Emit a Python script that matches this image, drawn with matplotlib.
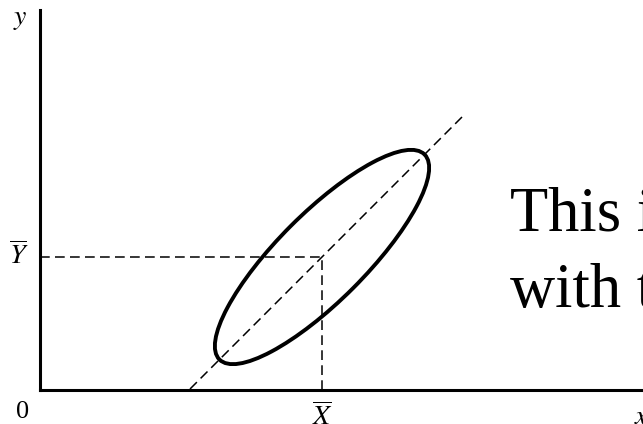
import matplotlib
matplotlib.use("Agg")
import matplotlib.pyplot as plt
from matplotlib.patches import Ellipse

plt.rcParams['font.family'] = ['Liberation Serif', 'DejaVu Serif']
plt.rcParams['mathtext.fontset'] = 'stix'
plt.rcParams['lines.scale_dashes'] = False

# 均值点与椭圆参数（坐标单位：1 = 100 px）
x_mean = 2.82
y_mean = 1.33
ellipse_width = 2.90
ellipse_height = 0.88
ellipse_angle = 45

# 回归直线（斜率为1，经过均值点）
line_x = [1.50, 4.22]
line_y = [x - x_mean + y_mean for x in line_x]

x_range = [0, 6.03]
y_range = [0, 3.80]

text_lines = ["This is", "with the"]

W, H = 643, 424
fig = plt.figure(figsize=(W / 100, H / 100), dpi=100)
ax = fig.add_axes([40 / W, (H - 390) / H, (W - 40) / W, 380 / H])
ax.set_xlim(x_range)
ax.set_ylim(y_range)
ax.set_xticks([])
ax.set_yticks([])
for side in ['top', 'right']:
    ax.spines[side].set_visible(False)
for side in ['left', 'bottom']:
    ax.spines[side].set_linewidth(2.2)
    ax.spines[side].set_color('black')

dash = (0, (7.0, 3.8))

# 均值虚线
ax.plot([x_range[0], x_mean], [y_mean, y_mean], color='black', lw=1.1, linestyle=dash)
ax.plot([x_mean, x_mean], [y_range[0], y_mean], color='black', lw=1.1, linestyle=dash)

# 斜向虚线
ax.plot(line_x, line_y, color='black', lw=1.1, linestyle=dash)

# 散点椭圆
ell = Ellipse((x_mean, y_mean), ellipse_width, ellipse_height, angle=ellipse_angle,
              fill=False, edgecolor='black', lw=2.8)
ax.add_patch(ell)

# 坐标标签
fig.text(20 / W, 1 - 19 / H, '$y$', fontsize=20, ha='center', va='center')
fig.text(19 / W, 1 - 256 / H, r'$\overline{Y}$', fontsize=20, ha='center', va='center')
fig.text(23 / W, 1 - 412 / H, '0', fontsize=19, ha='center', va='center')
ax.text(x_mean, -0.13, r'$\overline{X}$', fontsize=20, ha='center', va='top')
fig.text(634 / W, 1 - 418 / H, '$x$', fontsize=20, ha='left', va='center')

# 右侧文字
fig.text(510 / W, 1 - 230 / H, text_lines[0], fontsize=45, ha='left', va='baseline')
fig.text(510 / W, 1 - 307 / H, text_lines[1], fontsize=45, ha='left', va='baseline')

fig.savefig('out.png', dpi=100)
